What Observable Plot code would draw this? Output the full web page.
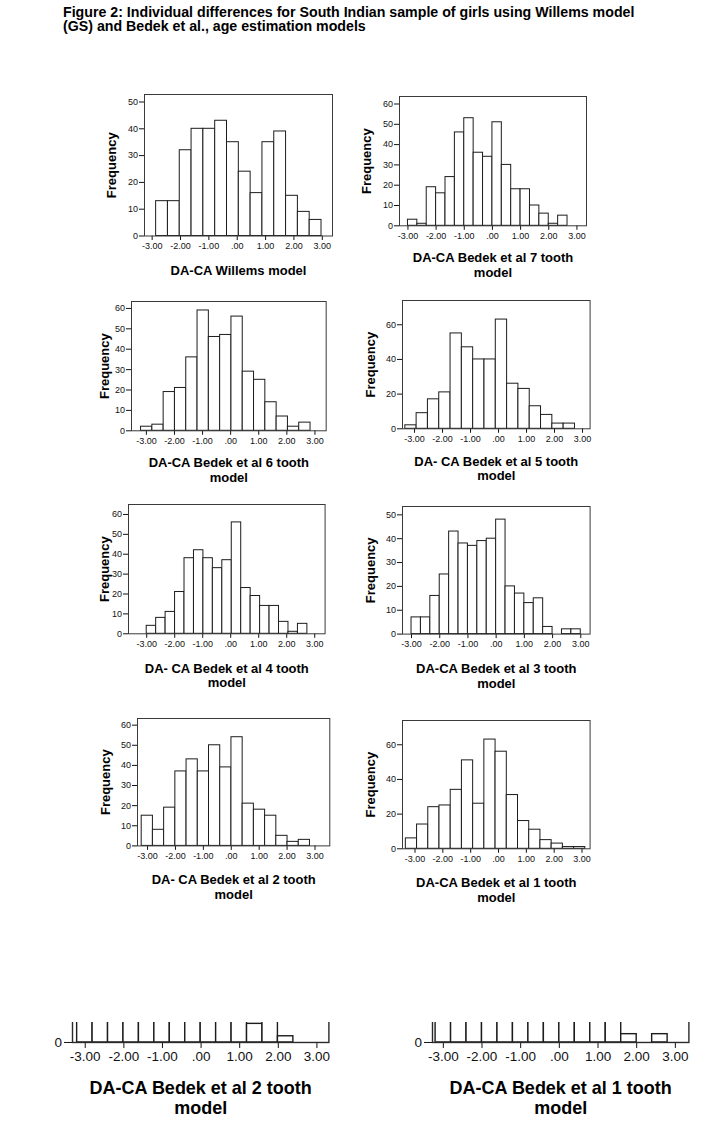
<!DOCTYPE html>
<html>
<head>
<meta charset="utf-8">
<script src="https://cdn.jsdelivr.net/npm/d3@7"></script>
<script src="https://cdn.jsdelivr.net/npm/@observablehq/plot@0.6"></script>
<style>
  body { margin: 0; background: #fff; }
  #page { position: relative; width: 722px; height: 1136px; background: #fff; overflow: hidden;
          font-family: "Liberation Sans", Arial, sans-serif; }
  .title { position: absolute; left: 63px; top: 5px; font-weight: bold; font-size: 14.2px;
           line-height: 14px; color: #000; white-space: nowrap; }
  .panel { position: absolute; }
  .strip { position: absolute; overflow: hidden; }
  .panel svg, .strip svg { position: absolute; max-width: none; }
</style>
</head>
<body>
<div id="page">
  <div class="title" id="title"></div>
</div>
<script>
// ---------------- DATA ----------------
const titleLines = [
  "Figure 2: Individual differences for South Indian sample of girls using Willems model",
  "(GS) and Bedek et al., age estimation models"
];
const xTickValues = [-3, -2, -1, 0, 1, 2, 3];
const xTickLabels = ["-3.00", "-2.00", "-1.00", ".00", "1.00", "2.00", "3.00"];
const yLabel = "Frequency";

const panelLabels = [
  "DA-CA Willems model",
  "DA-CA Bedek et al 7 tooth\nmodel",
  "DA-CA Bedek et al 6 tooth\nmodel",
  "DA- CA Bedek et al 5 tooth\nmodel",
  "DA- CA Bedek et al 4 tooth\nmodel",
  "DA-CA Bedek et al 3 tooth\nmodel",
  "DA- CA Bedek et al 2 tooth\nmodel",
  "DA-CA Bedek et al 1 tooth\nmodel"
];

// frequency counts per bin
const willemsCounts = [13, 13, 32, 40, 40, 43, 35, 24, 16, 35, 39, 15, 9, 6];
const tooth7Counts  = [3, 1, 19, 16, 24, 46, 53, 36, 34, 51, 30, 18, 18, 10, 6, 1, 5];
const tooth6Counts  = [2, 3, 19, 21, 36, 59, 46, 47, 56, 29, 25, 14, 7, 2, 4];
const tooth5Counts  = [2, 9, 17, 21, 55, 47, 40, 40, 63, 26, 23, 13, 8, 3, 3];
const tooth4Counts  = [4, 8, 11, 21, 38, 42, 38, 33, 37, 56, 23, 19, 14, 14, 6, 1, 5];
const tooth3Counts  = [7, 7, 16, 25, 43, 38, 37, 39, 40, 48, 20, 17, 13, 15, 3, 0, 2, 2];
const tooth2Counts  = [15, 8, 19, 37, 43, 37, 50, 39, 54, 21, 18, 15, 5, 2, 3];
const tooth1Counts  = [6, 14, 24, 25, 34, 51, 26, 63, 56, 31, 16, 11, 5, 3, 1, 1];

// first bin edge and bin width for each histogram
const binStarts = [-2.86, -3.0, -3.19, -3.33, -3.0, -3.0, -3.21, -3.33];
const binWidths = [0.4166, 0.3333, 0.4022, 0.404, 0.3375, 0.3333, 0.402, 0.403];

const yTickSets = [
  [0, 10, 20, 30, 40, 50],
  [0, 10, 20, 30, 40, 50, 60],
  [0, 10, 20, 30, 40, 50, 60],
  [0, 20, 40, 60],
  [0, 10, 20, 30, 40, 50, 60],
  [0, 10, 20, 30, 40, 50],
  [0, 10, 20, 30, 40, 50, 60],
  [0, 20, 40, 60]
];
const yDomainTops = [52.8, 63.7, 63.4, 74, 65, 53.5, 63.3, 74];
const xDomains = [
  [-3.27, 3.36], [-3.30, 3.34], [-3.53, 3.40], [-3.43, 3.27],
  [-3.65, 3.37], [-3.32, 3.33], [-3.36, 3.53], [-3.45, 3.29]
];

// enlarged bottom strips (only the lowest part of these histograms is visible)
const stripLabels = ["DA-CA Bedek et al 2 tooth\nmodel", "DA-CA Bedek et al 1 tooth\nmodel"];
const strip2Counts = [15, 8, 19, 37, 43, 37, 50, 39, 54, 21, 18, 3, 5, 1];
const strip1Counts = [6, 14, 24, 25, 34, 51, 26, 63, 56, 31, 16, 11, 1, 0, 1];
const stripBinStarts = [-3.21, -3.2];
const stripBinWidths = [0.4, 0.4];
const stripXDomains = [[-3.33, 3.31], [-3.28, 3.35]];
const stripYTicks = [0];

// ---------------- LAYOUT ----------------
const FONT = "'Liberation Sans', Arial, sans-serif";
const panelBoxes = [ // frame left, top, right, bottom ; label block centre below frame ; Frequency x
  {L: 144,   T: 93.5,  R: 332,   B: 235,   labelDy: 34,   freqX: 111.7},
  {L: 399,   T: 95.7,  R: 586,   B: 225,   labelDy: 39.2, freqX: 366.7},
  {L: 131,   T: 300.7, R: 325.7, B: 430,   labelDy: 39.2, freqX: 104},
  {L: 401.7, T: 300,   R: 589.3, B: 428.3, labelDy: 39.6, freqX: 370},
  {L: 127.7, T: 504,   R: 324.3, B: 633.3, labelDy: 41.7, freqX: 104},
  {L: 401.7, T: 505.7, R: 589.3, B: 633.3, labelDy: 41.7, freqX: 370},
  {L: 136.7, T: 718.3, R: 329,   B: 845.7, labelDy: 41,   freqX: 105},
  {L: 401.7, T: 720,   R: 589.3, B: 848.3, labelDy: 40.9, freqX: 370}
];
const allCounts = [willemsCounts, tooth7Counts, tooth6Counts, tooth5Counts,
                   tooth4Counts, tooth3Counts, tooth2Counts, tooth1Counts];

const page = document.getElementById("page");
document.getElementById("title").innerHTML = titleLines.join("<br>");

function binsOf(counts, start, width) {
  return counts.map((c, i) => ({x1: start + i * width, x2: start + (i + 1) * width, count: c}));
}
const fmtX = d => xTickLabels[xTickValues.indexOf(d)];

function drawPanel(i) {
  const b = panelBoxes[i];
  const mL = 50, mR = 8, mT = 6, mB = 62;
  const w = (b.R - b.L) + mL + mR, h = (b.B - b.T) + mT + mB;
  const rows = binsOf(allCounts[i], binStarts[i], binWidths[i]);
  const chart = Plot.plot({
    width: w, height: h,
    marginLeft: mL, marginRight: mR, marginTop: mT, marginBottom: mB,
    style: {fontFamily: FONT, fontSize: "9px", color: "#111", background: "transparent", overflow: "visible"},
    x: {domain: xDomains[i], ticks: xTickValues, tickFormat: fmtX, tickSize: 4.5, tickPadding: 2, label: null},
    y: {domain: [0, yDomainTops[i]], ticks: yTickSets[i], tickSize: 5, tickPadding: 1.5, label: null},
    marks: [
      Plot.rectY(rows, {x1: "x1", x2: "x2", y: "count", fill: "white", stroke: "#1c1c1c", strokeWidth: 1}),
      Plot.frame({stroke: "#3a3a3a", strokeWidth: 1}),
      Plot.text([panelLabels[i]], {text: d => d, frameAnchor: "bottom", dy: b.labelDy, lineAnchor: "middle",
        fontSize: 13, fontWeight: "bold", lineHeight: 1.12, fill: "#000"}),
      Plot.text([yLabel], {text: d => d, frameAnchor: "left", textAnchor: "middle", lineAnchor: "middle",
        dx: b.freqX - b.L, rotate: -90, fontSize: 13, fontWeight: "bold", fill: "#000"})
    ]
  });
  const div = document.createElement("div");
  div.className = "panel";
  div.style.left = (b.L - mL) + "px";
  div.style.top = (b.T - mT) + "px";
  div.style.width = w + "px";
  div.style.height = h + "px";
  chart.style.left = "0px"; chart.style.top = "0px";
  div.appendChild(chart);
  page.appendChild(div);
}
for (let i = 0; i < 8; i++) drawPanel(i);

// bottom strips: a tall histogram seen through a window that shows only its base
const stripBoxes = [
  {L: 72.3,  R: 328.7, B: 1042,   pxPerUnit: 6.2, winLeft: 0,   winWidth: 361},
  {L: 432.3, R: 688.7, B: 1042.3, pxPerUnit: 8.3, winLeft: 361, winWidth: 361}
];
const stripCounts = [strip2Counts, strip1Counts];
const winTop = 1021.7;

function drawStrip(k) {
  const s = stripBoxes[k];
  const yTop = 70;
  const plotH = yTop * s.pxPerUnit;
  const mL = 40, mR = 12, mT = 2, mB = 80;
  const w = (s.R - s.L) + mL + mR, h = plotH + mT + mB;
  const rows = binsOf(stripCounts[k], stripBinStarts[k], stripBinWidths[k]);
  const chart = Plot.plot({
    width: w, height: h,
    marginLeft: mL, marginRight: mR, marginTop: mT, marginBottom: mB,
    style: {fontFamily: FONT, fontSize: "13.5px", color: "#111", background: "transparent", overflow: "visible"},
    x: {domain: stripXDomains[k], ticks: xTickValues, tickFormat: fmtX, tickSize: 6, tickPadding: 3, label: null},
    y: {domain: [0, yTop], ticks: stripYTicks, tickSize: 8, tickPadding: 2.5, label: null},
    marks: [
      Plot.rectY(rows, {x1: "x1", x2: "x2", y: "count", fill: "white", stroke: "#1c1c1c", strokeWidth: 1.4}),
      Plot.frame({stroke: "#2a2a2a", strokeWidth: 1.4}),
      Plot.text([stripLabels[k]], {text: d => d, frameAnchor: "bottom", dy: 55, lineAnchor: "middle",
        fontSize: 18, fontWeight: "bold", lineHeight: 1.11, fill: "#000"})
    ]
  });
  const div = document.createElement("div");
  div.className = "strip";
  div.style.left = s.winLeft + "px";
  div.style.top = winTop + "px";
  div.style.width = s.winWidth + "px";
  div.style.height = (1136 - winTop) + "px";
  chart.style.left = (s.L - mL - s.winLeft) + "px";
  chart.style.top = (s.B - plotH - mT - winTop) + "px";
  div.appendChild(chart);
  page.appendChild(div);
}
drawStrip(0);
drawStrip(1);
</script>
</body>
</html>
